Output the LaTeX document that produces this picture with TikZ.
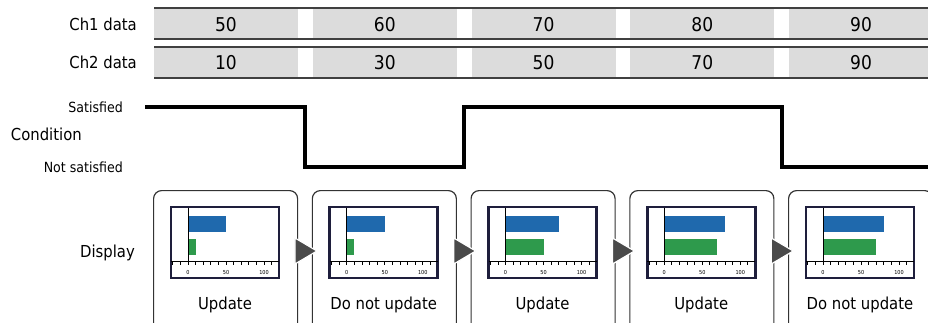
\documentclass[tikz,border=0pt]{standalone}
\usepackage{fontspec}
\setmainfont{DejaVu Sans Condensed}
\usetikzlibrary{calc}
\definecolor{cellgray}{HTML}{DCDCDC}
\definecolor{tline}{HTML}{404040}
\definecolor{navy}{HTML}{1E1E3C}
\definecolor{barblue}{HTML}{1F69AD}
\definecolor{bargreen}{HTML}{2E9A4C}
\definecolor{arrowgray}{HTML}{4A4A4A}
\begin{document}
\begin{tikzpicture}[x=1pt,y=-1pt,
  lab/.style={font=\fontsize{16.5}{18}\selectfont, anchor=base east, inner sep=0pt},
  sublab/.style={font=\fontsize{14}{16}\selectfont, anchor=base east, inner sep=0pt},
  num/.style={font=\fontsize{19}{20}\selectfont, anchor=base, inner sep=0pt},
  captxt/.style={font=\fontsize{16.5}{18}\selectfont, anchor=base, inner sep=0pt},
  cellbox/.style={fill=cellgray, draw=none, minimum width=144pt, minimum height=29pt, inner sep=0pt, anchor=north west},
  tableline/.style={draw=tline, line width=1.6pt},
  wave/.style={line width=4pt, black, miter limit=10},
  dispbox/.style={draw=black!80, line width=1.2pt, rounded corners=8pt, minimum width=144pt, minimum height=150pt, inner sep=0pt, anchor=north west},
  chartframe/.style={draw=navy, line width=2.6pt, fill=white},
  tickline/.style={black, line width=0.8pt},
  ticklab/.style={font=\fontsize{5.5}{6}\selectfont, anchor=base, inner sep=0pt},
  steparrow/.style={fill=arrowgray, draw=white, line width=1.2pt}
]
\useasboundingbox (0,0) rectangle (928,322);
\clip (0,0) rectangle (928,322);

% table lines
\draw[tableline] (154,8) -- (928,8);
\draw[tableline] (154,39) -- (928,39);
\draw[tableline] (154,47) -- (928,47);
\draw[tableline] (154,78) -- (928,78);

% labels
\node[lab] (ch1) at (137,30) {Ch1 data};
\node[lab] (ch2) at (137,68) {Ch2 data};
\node[sublab] (sat) at (123,112.5) {Satisfied};
\node[lab] (cond) at (82,140.5) {Condition};
\node[sublab] (nsat) at (123,172.5) {Not satisfied};
\node[lab] (disp) at (135,257) {Display};

% waveform
\draw[wave] (145,107) -- (305,107) -- (305,167) -- (464,167) -- (464,107) -- (781.5,107) -- (781.5,167) -- (935,167);

\foreach \i/\a/\b/\bb/\gg/\ct in {0/50/10/50/10/Update, 1/60/30/50/10/Do not update, 2/70/50/70/50/Update, 3/80/70/80/70/Update, 4/90/90/80/70/Do not update}{
  \pgfmathsetmacro\cx{154+158.75*\i}
  \node[cellbox] (ra\i) at (\cx,9) {};
  \node[cellbox] (rb\i) at (\cx,48) {};
  \node[num] (na\i) at (\cx+72,31.5) {\a};
  \node[num] (nb\i) at (\cx+72,69.5) {\b};
  \pgfmathsetmacro\bx{153+158.75*\i}
  \node[dispbox] (box\i) at (\bx,190) {};
  \node[captxt] (cap\i) at (\bx+72,309) {\ct};
  \pgfmathsetmacro\L{\bx+18}
  \pgfmathsetmacro\Z{\L+17}
  \draw[chartframe] (\L,207) rectangle (\L+108,278);
  \fill[barblue] (\Z,216) rectangle ({\Z+0.76*\bb},232);
  \fill[bargreen] (\Z,239) rectangle ({\Z+0.76*\gg},255);
  \draw[tickline] (\L,261) -- (\L+108,261);
  \draw[tickline] (\Z,208) -- (\Z,265);
  \foreach \t in {-20,-10,...,110}{
    \draw[tickline] ({\Z+0.76*\t},261) -- ++(0,4);
  }
  \node[ticklab] (tla\i) at (\Z,274) {0};
  \node[ticklab] (tlb\i) at (\Z+38,274) {50};
  \node[ticklab] (tlc\i) at (\Z+76,274) {100};
}

\foreach \i in {0,...,3}{
  \pgfmathtruncatemacro\j{\i+1}
  \coordinate (g\i) at ($(box\i.north east)!0.5!(box\j.north west)$);
  \path[steparrow] ($(g\i)+(-10,48)$) -- ($(g\i)+(12,61)$) -- ($(g\i)+(-10,74)$) -- cycle;
}
\end{tikzpicture}
\end{document}
